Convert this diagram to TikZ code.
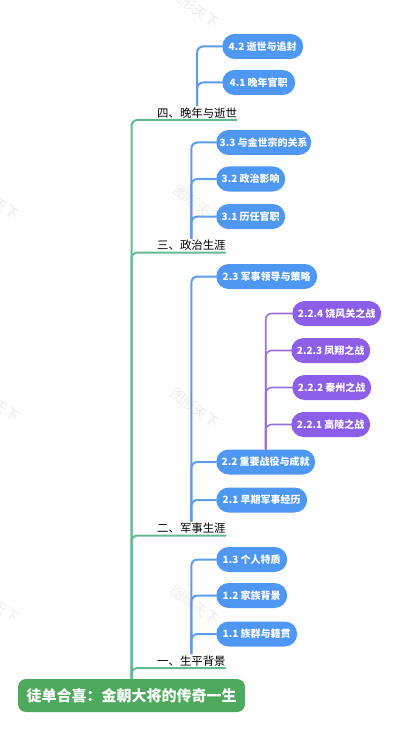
\documentclass[tikz,border=0pt]{standalone}
\usepackage{fontspec}
\newfontfamily\cjk{Noto Sans CJK SC}
\definecolor{trunkc}{HTML}{62BA93}
\definecolor{rootf}{HTML}{4DA95B}
\definecolor{bluef}{HTML}{4E97F3}
\definecolor{bluel}{HTML}{5B9CEB}
\definecolor{purpf}{HTML}{8C5EEA}
\definecolor{purpl}{HTML}{9A70DE}
\tikzset{
  trunk/.style={draw=trunkc, line width=2pt, rounded corners=6pt},
  blueln/.style={draw=bluel, line width=2pt, rounded corners=6pt},
  purpln/.style={draw=purpl, line width=1.6pt, rounded corners=6pt},
  bnode/.style={fill=bluef, text=white, font=\cjk\bfseries\fontsize{10}{11}\selectfont,
    rounded corners=12.5pt, minimum height=25pt, inner xsep=2pt, inner ysep=0pt, anchor=west},
  pnode/.style={bnode, fill=purpf},
  lvl/.style={font=\cjk\fontsize{11.4}{12}\selectfont, inner xsep=0pt, inner ysep=1.5pt, anchor=south west},
  rootbox/.style={fill=rootf, text=white, font=\cjk\bfseries\fontsize{15}{16}\selectfont,
    rounded corners=8pt, minimum width=227pt, minimum height=33pt, inner sep=0pt},
  wmark/.style={text=black!8, font=\cjk\fontsize{14}{15}\selectfont, rotate=-37}
}
\begin{document}
\begin{tikzpicture}[x=1pt,y=-1pt]
\useasboundingbox (0,0) rectangle (400,746);
% watermarks
\node[wmark] (w1) at (195,8) {图形天下};
\node[wmark] (w2) at (198,205) {图形天下};
\node[wmark] (w3) at (195,408) {图形天下};
\node[wmark] (w4) at (195,605) {图形天下};
\node[wmark] (w5) at (-5,200) {图形天下};
\node[wmark] (w6) at (-5,402) {图形天下};
\node[wmark] (w7) at (-5,603) {图形天下};
% root
\node[rootbox] (root) at (131.5,695.5) {徒单合喜：金朝大将的传奇一生};
% level 1
\node[lvl] (l4) at (157,120) {四、晚年与逝世};
\node[lvl] (l3) at (157,252.5) {三、政治生涯};
\node[lvl] (l2) at (157,535.5) {二、军事生涯};
\node[lvl] (l1) at (157,668) {一、生平背景};
% level 2
\node[bnode, minimum width=81pt] (c42) at (222,46.5) {4.2 逝世与追封};
\node[bnode, minimum width=73pt] (c41) at (222,82.5) {4.1 晚年官职};
\node[bnode, minimum width=95pt] (c33) at (216,142.5) {3.3 与金世宗的关系};
\node[bnode, minimum width=69pt] (c32) at (216,179) {3.2 政治影响};
\node[bnode, minimum width=69pt] (c31) at (216,216.5) {3.1 历任官职};
\node[bnode, minimum width=101pt] (c23) at (216,276.5) {2.3 军事领导与策略};
\node[bnode, minimum width=99pt] (c22) at (216,462) {2.2 重要战役与成就};
\node[bnode, minimum width=91pt] (c21) at (216,500) {2.1 早期军事经历};
\node[bnode, minimum width=71pt] (c13) at (216,559.5) {1.3 个人特质};
\node[bnode, minimum width=71pt] (c12) at (216,595.5) {1.2 家族背景};
\node[bnode, minimum width=81pt] (c11) at (216,634) {1.1 族群与籍贯};
% level 3
\node[pnode, minimum width=89pt] (c224) at (292,313.5) {2.2.4 饶风关之战};
\node[pnode, minimum width=79pt] (c223) at (291,350.5) {2.2.3 凤翔之战};
\node[pnode, minimum width=79pt] (c222) at (292,387.5) {2.2.2 秦州之战};
\node[pnode, minimum width=79pt] (c221) at (291,424.5) {2.2.1 高陵之战};
% trunk connectors
\draw[trunk] (root.north) |- (l4.south west) -- (l4.south east);
\draw[trunk] (root.north) |- (l3.south west) -- (l3.south east);
\draw[trunk] (root.north) |- (l2.south west) -- (l2.south east);
\draw[trunk] (root.north) |- (l1.south west) -- (l1.south east);
% blue connectors
\draw[blueln] (l4.north) |- (c42.west);
\draw[blueln] (l4.north) |- (c41.west);
\draw[blueln] (l3.north) |- (c33.west);
\draw[blueln] (l3.north) |- (c32.west);
\draw[blueln] (l3.north) |- (c31.west);
\draw[blueln] (l2.north) |- (c23.west);
\draw[blueln] (l2.north) |- (c22.west);
\draw[blueln] (l2.north) |- (c21.west);
\draw[blueln] (l1.north) |- (c13.west);
\draw[blueln] (l1.north) |- (c12.west);
\draw[blueln] (l1.north) |- (c11.west);
% purple connectors
\draw[purpln] (c22.north) |- (c224.west);
\draw[purpln] (c22.north) |- (c223.west);
\draw[purpln] (c22.north) |- (c222.west);
\draw[purpln] (c22.north) |- (c221.west);
\end{tikzpicture}
\end{document}
